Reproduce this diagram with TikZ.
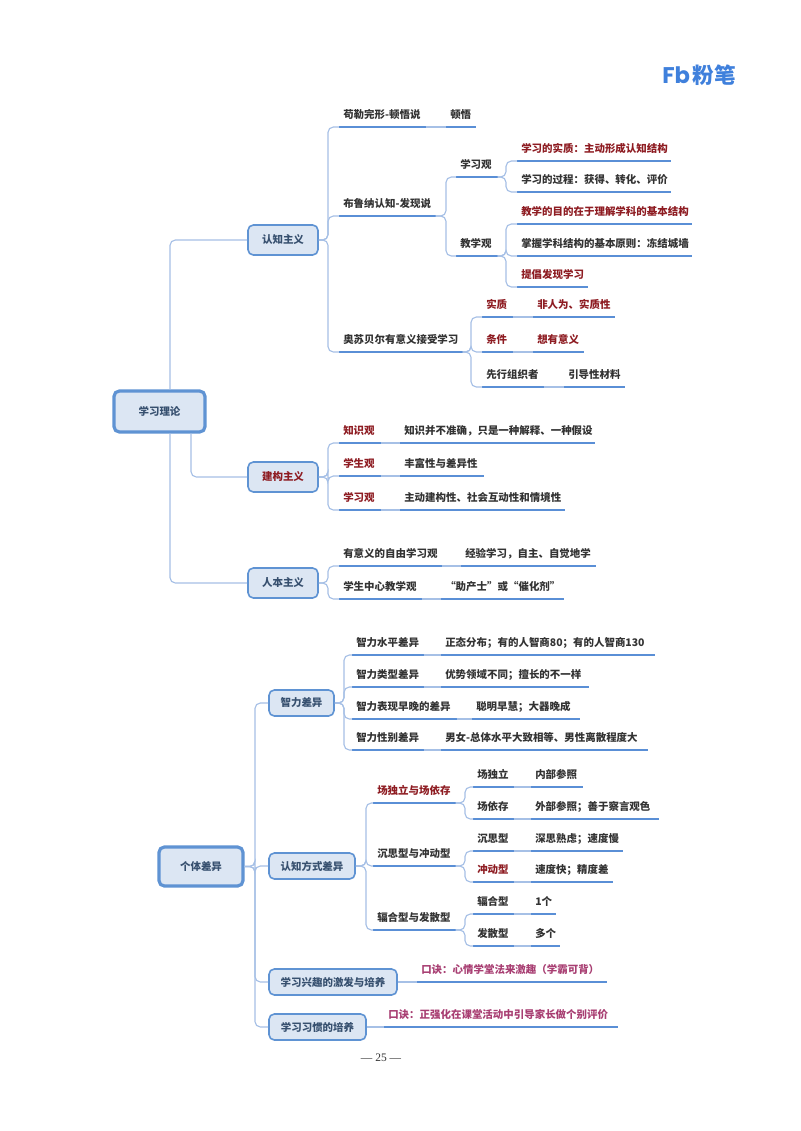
\documentclass[tikz,border=0pt]{standalone}
\usepackage{fontspec}
\setmainfont{Noto Sans CJK SC}
\newfontfamily\logolat{Poppins}
\newfontfamily\pagefont{Liberation Serif}
\definecolor{conn}{HTML}{A6C0E6}
\definecolor{ulc}{HTML}{5A8FD6}
\definecolor{boxb}{HTML}{5F93D3}
\definecolor{boxf}{HTML}{DCE6F3}
\definecolor{tblack}{HTML}{333333}
\definecolor{tred}{HTML}{8E1C22}
\definecolor{tmag}{HTML}{A83E72}
\definecolor{tbox}{HTML}{37506F}
\definecolor{logoc}{HTML}{3F80DC}
\tikzset{
  every node/.style={font=\fontsize{7.85}{9}\selectfont\bfseries, inner sep=0pt, text=tblack},
  connline/.style={draw=conn, line width=0.85pt, rounded corners=4pt},
  ulline/.style={draw=ulc, line width=1.65pt},
  leaf/.style={anchor=south west, inner xsep=0pt, inner ysep=5.0pt, text height=6.5pt, text depth=1pt},
  rootbox/.style={draw=boxb, fill=boxf, line width=2.4pt, rounded corners=4pt, text=tbox},
  subbox/.style={draw=boxb, fill=boxf, line width=1.2pt, rounded corners=4pt, text=tbox},
}
\newlength\lfw
\newcommand\lf[6]{%
  \pgfmathsetlength\lfw{(#3-#2)*0.75pt}%
  \node[leaf, text=#5] (#1) at (#2,#4) {\hbox to \lfw{\hskip3pt #6\hss}};
  \draw[ulline] (#1.south west) -- (#1.south east);}
\newcommand\elbow[3]{%
  \coordinate (tmpt) at (#3,0);
  \draw[connline] (#1) -- (#1 -| tmpt) -- (tmpt |- #2) -- (#2);}
\newcommand\link[2]{\draw[connline] (#1.south east) -- (#2.south west);}
\newcommand\bx[7]{% name style x1 x2 y1 y2 text
  \node[#2, minimum width={(#4-#3)*0.75pt}, minimum height={(#6-#5)*0.75pt}] (#1) at ({(#3+#4)/2},{(#5+#6)/2}) {#7};}
\begin{document}
\begin{tikzpicture}[x=0.75pt,y=-0.75pt]
\useasboundingbox (0,0) rectangle (800,1131);
\fill[white] (0,0) rectangle (800,1131);

% logo
\node[anchor=west, font=\logolat\fontsize{17}{18}\selectfont\bfseries, text=logoc] (logoa) at (662,75.5) {Fb};
\node[anchor=west, font=\fontsize{16.2}{18}\selectfont\bfseries, text=logoc] (logob) at (692.5,75.5) {粉笔};

% ---------- group 1 ----------
\bx{rootA}{rootbox}{114}{205}{391}{432}{学习理论}
\bx{ren}{subbox}{248}{318}{225}{255}{认知主义}
\bx{jian}{subbox}{248}{318}{462}{492}{\textcolor{tred}{建构主义}}
\bx{renben}{subbox}{248}{318}{568}{598}{人本主义}

\coordinate (rxa) at (170,0);
\coordinate (rxb) at (191,0);
\draw[connline] (rxa |- rootA.north) -- (rxa |- ren.west) -- (ren.west);
\draw[connline] (rxb |- rootA.south) -- (rxb |- jian.west) -- (jian.west);
\draw[connline] (rxa |- rootA.south) -- (rxa |- renben.west) -- (renben.west);

% cognitive
\lf{gl}{339}{425}{127}{tblack}{苟勒完形-顿悟说}
\lf{dw}{446}{475}{127}{tblack}{顿悟}
\link{gl}{dw}
\lf{bln}{339}{435}{216}{tblack}{布鲁纳认知-发现说}
\lf{asb}{339}{462}{352}{tblack}{奥苏贝尔有意义接受学习}
\elbow{ren.east}{gl.south west}{328}
\elbow{ren.east}{bln.south west}{328}
\elbow{ren.east}{asb.south west}{328}

\lf{xxg}{456}{497}{177}{tblack}{学习观}
\lf{jxg}{456}{497}{256}{tblack}{教学观}
\elbow{bln.south east}{xxg.south west}{446}
\elbow{bln.south east}{jxg.south west}{446}

\lf{xa}{517}{670}{161}{tred}{学习的实质：主动形成认知结构}
\lf{xb}{517}{670}{192}{tblack}{学习的过程：获得、转化、评价}
\elbow{xxg.south east}{xa.south west}{506}
\elbow{xxg.south east}{xb.south west}{506}

\lf{ja}{517}{691}{224}{tred}{教学的目的在于理解学科的基本结构}
\lf{jb}{517}{691}{256}{tblack}{掌握学科结构的基本原则：冻结城墙}
\lf{jc}{517}{587}{287}{tred}{提倡发现学习}
\elbow{jxg.south east}{ja.south west}{506}
\elbow{jxg.south east}{jb.south west}{506}
\elbow{jxg.south east}{jc.south west}{506}

\lf{sz}{482}{512}{317}{tred}{实质}
\lf{sza}{533}{614}{317}{tred}{非人为、实质性}
\lf{tj}{482}{512}{352}{tred}{条件}
\lf{tja}{533}{583}{352}{tred}{想有意义}
\lf{xz}{482}{543}{387}{tblack}{先行组织者}
\lf{xza}{564}{624}{387}{tblack}{引导性材料}
\link{sz}{sza}\link{tj}{tja}\link{xz}{xza}
\elbow{asb.south east}{sz.south west}{471}
\elbow{asb.south east}{tj.south west}{471}
\elbow{asb.south east}{xz.south west}{471}

% constructivism
\lf{zsg}{339}{380}{443}{tred}{知识观}
\lf{zsa}{400}{594}{443}{tblack}{知识并不准确，只是一种解释、一种假设}
\lf{xsg}{339}{380}{476}{tred}{学生观}
\lf{xsa}{400}{483}{476}{tblack}{丰富性与差异性}
\lf{xig}{339}{380}{510}{tred}{学习观}
\lf{xia}{400}{564}{510}{tblack}{主动建构性、社会互动性和情境性}
\link{zsg}{zsa}\link{xsg}{xsa}\link{xig}{xia}
\elbow{jian.east}{zsg.south west}{328}
\elbow{jian.east}{xsg.south west}{328}
\elbow{jian.east}{xig.south west}{328}

% humanism
\lf{yyy}{339}{441}{566}{tblack}{有意义的自由学习观}
\lf{yya}{461}{595}{566}{tblack}{经验学习，自主、自觉地学}
\lf{xzx}{339}{421}{599}{tblack}{学生中心教学观}
\lf{xza2}{441}{563}{599}{tblack}{“助产士”或“催化剂”}
\link{yyy}{yya}\link{xzx}{xza2}
\elbow{renben.east}{yyy.south west}{328}
\elbow{renben.east}{xzx.south west}{328}

% ---------- group 2 ----------
\bx{rootB}{rootbox}{159}{243}{847}{886}{个体差异}
\bx{zl}{subbox}{269}{334}{690}{716}{智力差异}
\bx{rz}{subbox}{269}{355}{853}{879}{认知方式差异}
\bx{xq}{subbox}{269}{397}{969}{995}{学习兴趣的激发与培养}
\bx{xg}{subbox}{269}{366}{1014}{1040}{学习习惯的培养}
\elbow{rootB.east}{zl.west}{255}
\elbow{rootB.east}{rz.west}{255}
\elbow{rootB.east}{xq.west}{255}
\elbow{rootB.east}{xg.west}{255}

\lf{za}{352}{423}{655}{tblack}{智力水平差异}
\lf{zaa}{441}{654}{655}{tblack}{正态分布；有的人智商80；有的人智商130}
\lf{zb}{352}{423}{687}{tblack}{智力类型差异}
\lf{zba}{441}{588}{687}{tblack}{优势领域不同；擅长的不一样}
\lf{zc}{352}{456}{719}{tblack}{智力表现早晚的差异}
\lf{zca}{472}{579}{719}{tblack}{聪明早慧；大器晚成}
\lf{zd}{352}{423}{750}{tblack}{智力性别差异}
\lf{zda}{441}{647}{750}{tblack}{男女-总体水平大致相等、男性离散程度大}
\link{za}{zaa}\link{zb}{zba}\link{zc}{zca}\link{zd}{zda}
\elbow{zl.east}{za.south west}{344}
\elbow{zl.east}{zb.south west}{344}
\elbow{zl.east}{zc.south west}{344}
\elbow{zl.east}{zd.south west}{344}

\lf{ca}{373}{455}{803}{tred}{场独立与场依存}
\lf{cb}{373}{455}{866}{tblack}{沉思型与冲动型}
\lf{cc}{373}{455}{930}{tblack}{辐合型与发散型}
\elbow{rz.east}{ca.south west}{366}
\elbow{rz.east}{cb.south west}{366}
\elbow{rz.east}{cc.south west}{366}

\lf{da}{473}{513}{787}{tblack}{场独立}
\lf{daa}{531}{582}{787}{tblack}{内部参照}
\lf{db}{473}{513}{819}{tblack}{场依存}
\lf{dba}{531}{658}{819}{tblack}{外部参照；善于察言观色}
\lf{dc}{473}{513}{851}{tblack}{沉思型}
\lf{dca}{531}{622}{851}{tblack}{深思熟虑；速度慢}
\lf{dd}{473}{513}{882}{tred}{冲动型}
\lf{dda}{531}{612}{882}{tblack}{速度快；精度差}
\lf{de}{473}{513}{914}{tblack}{辐合型}
\lf{dea}{531}{555}{914}{tblack}{1个}
\lf{df}{473}{513}{946}{tblack}{发散型}
\lf{dfa}{531}{559}{946}{tblack}{多个}
\link{da}{daa}\link{db}{dba}\link{dc}{dca}\link{dd}{dda}\link{de}{dea}\link{df}{dfa}
\elbow{ca.south east}{da.south west}{465}
\elbow{ca.south east}{db.south west}{465}
\elbow{cb.south east}{dc.south west}{465}
\elbow{cb.south east}{dd.south west}{465}
\elbow{cc.south east}{de.south west}{465}
\elbow{cc.south east}{df.south west}{465}

\lf{kj}{417}{606}{982}{tmag}{口诀：心情学堂法来激趣（学霸可背）}
\lf{kk}{384}{617}{1027}{tmag}{口诀：正强化在课堂活动中引导家长做个别评价}
\draw[connline] (xq.east) -- (kj.south west);
\draw[connline] (xg.east) -- (kk.south west);

% page number
\node[font=\pagefont\fontsize{8.6}{10}\selectfont, text=tblack] (pg) at (381,1058) {— 25 —};
\end{tikzpicture}
\end{document}
